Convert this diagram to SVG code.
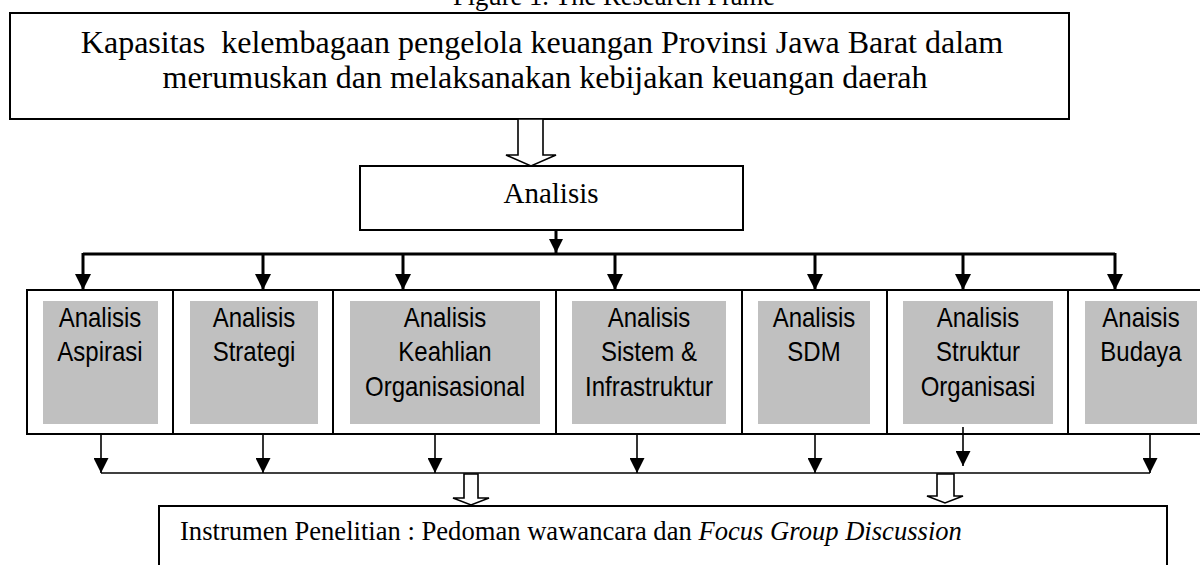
<svg xmlns="http://www.w3.org/2000/svg" width="1200" height="565" viewBox="0 0 1200 565">
<style>
.serif{font-family:"Liberation Serif","Times New Roman",serif;fill:#000}
.sans{font-family:"Liberation Sans",Arial,sans-serif;font-size:28px;fill:#000;text-anchor:middle}
.box{fill:#fff;stroke:#000;stroke-width:2}
.grey{fill:#c0c0c0;stroke:none}
.thick{stroke:#000;stroke-width:3;fill:none}
.thin{stroke:#000;stroke-width:1.6;fill:none}
.hollow{fill:#fff;stroke:#000;stroke-width:1.6;stroke-linejoin:miter}
</style>
<defs>
<marker id="headBig" markerUnits="userSpaceOnUse" markerWidth="16" markerHeight="16" refX="16" refY="8" orient="auto" viewBox="0 0 16 16">
<path d="M0,0 L16,8 L0,16 Z" fill="#000"/>
</marker>
<marker id="headMid" markerUnits="userSpaceOnUse" markerWidth="14" markerHeight="14" refX="14" refY="7" orient="auto" viewBox="0 0 14 14">
<path d="M0,0 L14,7 L0,14 Z" fill="#000"/>
</marker>
<marker id="headSmall" markerUnits="userSpaceOnUse" markerWidth="15" markerHeight="15" refX="15" refY="7.5" orient="auto" viewBox="0 0 15 15">
<path d="M0,0 L15,7.5 L0,15 Z" fill="#000"/>
</marker>
</defs>

<text id="title" class="serif" x="614" y="5" font-size="26.6" text-anchor="middle">Figure 1. The Research Frame</text>

<g id="node-top">
<rect class="box" x="10" y="13" width="1059" height="106"/>
<text class="serif" font-size="32" text-anchor="middle" xml:space="preserve"><tspan x="542" y="53">Kapasitas  kelembagaan pengelola keuangan Provinsi Jawa Barat dalam</tspan><tspan x="545" y="88">merumuskan dan melaksanakan kebijakan keuangan daerah</tspan></text>
</g>

<g id="node-analisis">
<rect class="box" x="360" y="166" width="383" height="64" stroke-width="1.6"/>
<text class="serif" x="551" y="203" font-size="29" text-anchor="middle">Analisis</text>
</g>

<g id="node-aspirasi">
<rect class="box" x="27" y="290" width="146" height="144"/>
<rect class="grey" x="43" y="301" width="115" height="123"/>
<text class="sans" transform="matrix(0.857 0 0 1 100 0)"><tspan x="0" y="327">Analisis</tspan><tspan x="0" y="361">Aspirasi</tspan></text>
</g>
<g id="node-strategi">
<rect class="box" x="173" y="290" width="160" height="144"/>
<rect class="grey" x="190" y="301" width="128" height="123"/>
<text class="sans" transform="matrix(0.857 0 0 1 254 0)"><tspan x="0" y="327">Analisis</tspan><tspan x="0" y="361">Strategi</tspan></text>
</g>
<g id="node-keahlian">
<rect class="box" x="333" y="290" width="223" height="144"/>
<rect class="grey" x="350" y="301" width="190" height="123"/>
<text class="sans" transform="matrix(0.857 0 0 1 445 0)"><tspan x="0" y="327">Analisis</tspan><tspan x="0" y="361">Keahlian</tspan><tspan x="0" y="396">Organisasional</tspan></text>
</g>
<g id="node-sistem">
<rect class="box" x="556" y="290" width="186" height="144"/>
<rect class="grey" x="572" y="301" width="154" height="123"/>
<text class="sans" transform="matrix(0.857 0 0 1 649 0)"><tspan x="0" y="327">Analisis</tspan><tspan x="0" y="361">Sistem &amp;</tspan><tspan x="0" y="396">Infrastruktur</tspan></text>
</g>
<g id="node-sdm">
<rect class="box" x="742" y="290" width="145" height="144"/>
<rect class="grey" x="758" y="301" width="112" height="123"/>
<text class="sans" transform="matrix(0.857 0 0 1 814 0)"><tspan x="0" y="327">Analisis</tspan><tspan x="0" y="361">SDM</tspan></text>
</g>
<g id="node-struktur">
<rect class="box" x="887" y="290" width="181" height="144"/>
<rect class="grey" x="903" y="301" width="150" height="123"/>
<text class="sans" transform="matrix(0.857 0 0 1 978 0)"><tspan x="0" y="327">Analisis</tspan><tspan x="0" y="361">Struktur</tspan><tspan x="0" y="396">Organisasi</tspan></text>
</g>
<g id="node-budaya">
<rect class="box" x="1068" y="290" width="140" height="144"/>
<rect class="grey" x="1085" y="301" width="112" height="123"/>
<text class="sans" transform="matrix(0.857 0 0 1 1141 0)"><tspan x="0" y="327">Anaisis</tspan><tspan x="0" y="361">Budaya</tspan></text>
</g>

<g id="node-instrumen">
<rect class="box" x="159" y="506" width="1008" height="70"/>
<text class="serif" x="180" y="540" font-size="26.6">Instrumen Penelitian : Pedoman wawancara dan <tspan font-style="italic">Focus Group Discussion</tspan></text>
</g>

<g id="connectors">
<polygon class="hollow" points="518,119 543,119 543,155 556,155 531,166 506,155 518,155"/>
<line class="thick" x1="556" y1="230" x2="556" y2="253" marker-end="url(#headMid)"/>
<line class="thick" x1="83" y1="254" x2="1115" y2="254"/>
<line class="thick" x1="83" y1="253" x2="83" y2="290" marker-end="url(#headBig)"/>
<line class="thick" x1="263" y1="254" x2="263" y2="290" marker-end="url(#headBig)"/>
<line class="thick" x1="403" y1="254" x2="403" y2="290" marker-end="url(#headBig)"/>
<line class="thick" x1="615" y1="254" x2="615" y2="290" marker-end="url(#headBig)"/>
<line class="thick" x1="815" y1="254" x2="815" y2="290" marker-end="url(#headBig)"/>
<line class="thick" x1="963" y1="254" x2="963" y2="290" marker-end="url(#headBig)"/>
<line class="thick" x1="1115" y1="253" x2="1115" y2="290" marker-end="url(#headBig)"/>

<line class="thin" x1="101" y1="434" x2="101" y2="473" marker-end="url(#headSmall)"/>
<line class="thin" x1="263" y1="434" x2="263" y2="473" marker-end="url(#headSmall)"/>
<line class="thin" x1="435" y1="434" x2="435" y2="473" marker-end="url(#headSmall)"/>
<line class="thin" x1="637" y1="434" x2="637" y2="473" marker-end="url(#headSmall)"/>
<line class="thin" x1="815" y1="434" x2="815" y2="473" marker-end="url(#headSmall)"/>
<line class="thin" x1="963" y1="427" x2="963" y2="466" marker-end="url(#headSmall)"/>
<line class="thin" x1="1150" y1="434" x2="1150" y2="473" marker-end="url(#headSmall)"/>
<line class="thin" x1="101" y1="473" x2="1150" y2="473"/>
<polygon class="hollow" points="464,474 478,474 478,498 489,498 471,505 453,498 464,498"/>
<polygon class="hollow" points="937,474 954,474 954,496 963,496 945,503 927,496 937,496"/>
</g>
</svg>
